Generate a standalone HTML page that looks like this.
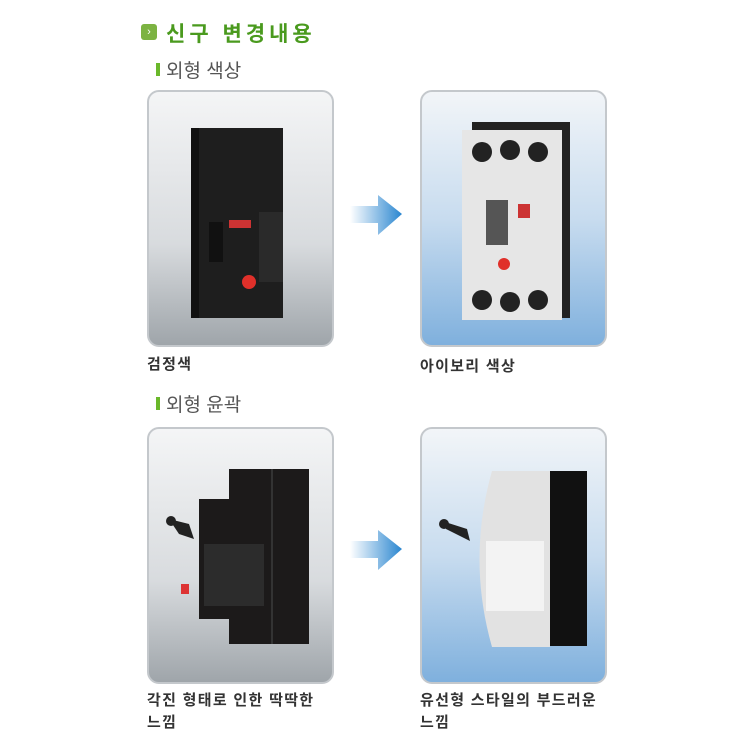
<!DOCTYPE html>
<html><head><meta charset="utf-8"><style>
body{margin:0;background:#fff;width:750px;height:750px;overflow:hidden;position:relative;font-family:"Liberation Sans","Noto Sans CJK KR",sans-serif}
.t{position:absolute;white-space:nowrap}
.p{position:absolute;width:187px;height:257px;border:2px solid #c4c8cc;border-radius:12px;box-sizing:border-box;overflow:hidden}
.g{background:linear-gradient(#f4f5f6,#d8dbde 60%,#9fa5aa)}
.b{background:linear-gradient(#f2f5f8,#c8dcef 50%,#7fb0dd)}
.lb{font-size:15px;font-weight:bold;color:#333;letter-spacing:1.3px}
</style></head><body>
<div style="position:absolute;left:141px;top:24px;width:16px;height:16px;background:#7cb342;border-radius:3px;color:#fff;font-size:11px;line-height:16px;text-align:center">›</div>
<div class="t" style="left:166px;top:18px;font-size:21px;color:#4a9a1e;font-weight:bold;letter-spacing:4px">신구 변경내용</div>
<div style="position:absolute;left:156px;top:63px;width:4px;height:13px;background:#6ab82a"></div>
<div class="t" style="left:166px;top:56px;font-size:19px;color:#555">외형 색상</div>
<div style="position:absolute;left:156px;top:397px;width:4px;height:13px;background:#6ab82a"></div>
<div class="t" style="left:166px;top:390px;font-size:19px;color:#555">외형 윤곽</div>

<div class="p g" style="left:147px;top:90px">
<svg width="187" height="257"><rect x="42" y="36" width="92" height="190" fill="#1e1e1e"/><rect x="42" y="36" width="8" height="190" fill="#111"/><rect x="110" y="120" width="24" height="70" fill="#2a2a2a"/><circle cx="100" cy="190" r="7" fill="#e0302a"/><rect x="60" y="130" width="14" height="40" fill="#111"/><rect x="80" y="128" width="22" height="8" fill="#c33"/></svg></div>
<div class="p b" style="left:420px;top:90px">
<svg width="187" height="257"><rect x="50" y="30" width="98" height="196" fill="#222"/><rect x="40" y="38" width="100" height="190" fill="#e6e6e6"/><g fill="#222"><circle cx="60" cy="60" r="10"/><circle cx="88" cy="58" r="10"/><circle cx="116" cy="60" r="10"/><circle cx="60" cy="208" r="10"/><circle cx="88" cy="210" r="10"/><circle cx="116" cy="208" r="10"/></g><rect x="64" y="108" width="22" height="45" fill="#555"/><circle cx="82" cy="172" r="6" fill="#e0302a"/><rect x="96" y="112" width="12" height="14" fill="#c33"/></svg></div>

<svg style="position:absolute;left:350px;top:195px" width="60" height="50"><defs><linearGradient id="a" x1="0" x2="1"><stop offset="0" stop-color="#fff"/><stop offset="1" stop-color="#2a86d0"/></linearGradient></defs><polygon points="0,11 28,11 28,0 52,19 28,40 28,28 0,28" fill="url(#a)"/></svg>
<svg style="position:absolute;left:350px;top:530px" width="60" height="50"><polygon points="0,11 28,11 28,0 52,19 28,40 28,28 0,28" fill="url(#a)"/></svg>

<div class="t lb" style="left:147px;top:353px">검정색</div>
<div class="t lb" style="left:420px;top:355px">아이보리 색상</div>

<div class="p g" style="left:147px;top:427px">
<svg width="187" height="257"><rect x="80" y="40" width="80" height="175" fill="#1c1a1a"/><rect x="50" y="70" width="40" height="120" fill="#1c1a1a"/><rect x="122" y="40" width="2" height="175" fill="#333"/><rect x="55" y="115" width="60" height="62" fill="#2c2c2c"/><path d="M20 90 L40 95 L45 110 L30 105Z" fill="#222"/><circle cx="22" cy="92" r="5" fill="#222"/><rect x="32" y="155" width="8" height="10" fill="#d33"/></svg></div>
<div class="p b" style="left:420px;top:427px">
<svg width="187" height="257"><rect x="125" y="42" width="40" height="175" fill="#111"/><path d="M70 42 L128 42 L128 218 L70 218 Q45 130 70 42Z" fill="#e2e2e2"/><rect x="64" y="112" width="58" height="70" fill="#f3f3f3"/><circle cx="22" cy="95" r="5" fill="#222"/><path d="M20 92 L45 100 L48 112 L24 100Z" fill="#222"/></svg></div>

<div class="t lb" style="left:147px;top:689px">각진 형태로 인한 딱딱한</div>
<div class="t lb" style="left:147px;top:711px">느낌</div>
<div class="t lb" style="left:420px;top:689px">유선형 스타일의 부드러운</div>
<div class="t lb" style="left:420px;top:711px">느낌</div>
</body></html>
